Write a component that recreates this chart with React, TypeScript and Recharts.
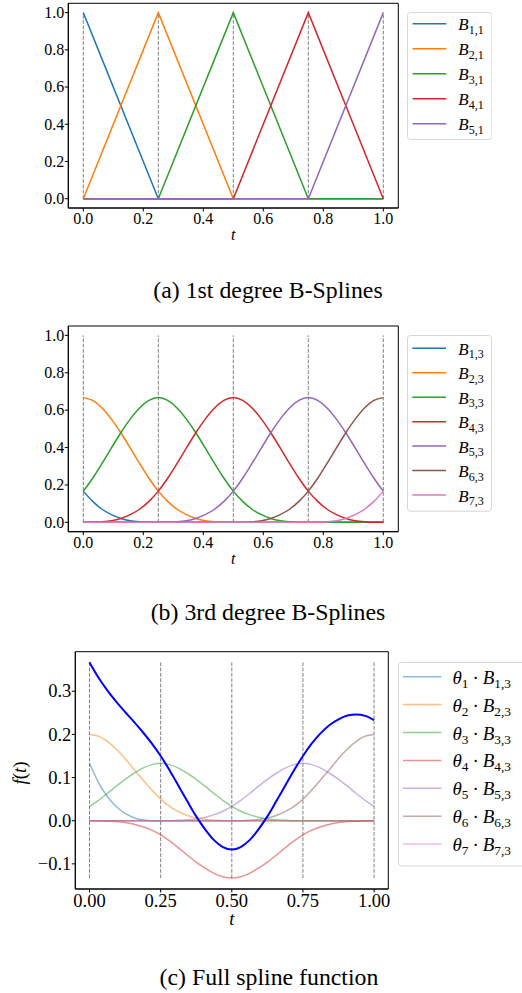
import React from 'react';
import { LineChart, Line, XAxis, YAxis, ReferenceLine, ReferenceArea, Legend } from 'recharts';

// ---------- data ----------
const KNOTS = [0, 0.25, 0.5, 0.75, 1];

// (a) 1st degree B-splines, sampled at the knots
const T1 = [0, 0.25, 0.5, 0.75, 1];
const B11 = [1, 0, 0, 0, 0];
const B21 = [0, 1, 0, 0, 0];
const B31 = [0, 0, 1, 0, 0];
const B41 = [0, 0, 0, 1, 0];
const B51 = [0, 0, 0, 0, 1];

// (b) 3rd degree B-splines
const T3 = [0, 0.03125, 0.0625, 0.09375, 0.125, 0.15625, 0.1875, 0.21875, 0.25, 0.28125, 0.3125, 0.34375, 0.375, 0.40625, 0.4375, 0.46875, 0.5, 0.53125, 0.5625, 0.59375, 0.625, 0.65625, 0.6875, 0.71875, 0.75, 0.78125, 0.8125, 0.84375, 0.875, 0.90625, 0.9375, 0.96875, 1];
const B13 = [0.167, 0.112, 0.070, 0.041, 0.021, 0.009, 0.003, 0, 0, 0, 0, 0, 0, 0, 0, 0, 0, 0, 0, 0, 0, 0, 0, 0, 0, 0, 0, 0, 0, 0, 0, 0, 0];
const B23 = [0.667, 0.652, 0.612, 0.552, 0.479, 0.398, 0.315, 0.236, 0.167, 0.112, 0.070, 0.041, 0.021, 0.009, 0.003, 0, 0, 0, 0, 0, 0, 0, 0, 0, 0, 0, 0, 0, 0, 0, 0, 0, 0];
const B33 = [0.167, 0.236, 0.315, 0.398, 0.479, 0.552, 0.612, 0.652, 0.667, 0.652, 0.612, 0.552, 0.479, 0.398, 0.315, 0.236, 0.167, 0.112, 0.070, 0.041, 0.021, 0.009, 0.003, 0, 0, 0, 0, 0, 0, 0, 0, 0, 0];
const B43 = [0, 0, 0.003, 0.009, 0.021, 0.041, 0.070, 0.112, 0.167, 0.236, 0.315, 0.398, 0.479, 0.552, 0.612, 0.652, 0.667, 0.652, 0.612, 0.552, 0.479, 0.398, 0.315, 0.236, 0.167, 0.112, 0.070, 0.041, 0.021, 0.009, 0.003, 0, 0];
const B53 = [0, 0, 0, 0, 0, 0, 0, 0, 0, 0, 0.003, 0.009, 0.021, 0.041, 0.070, 0.112, 0.167, 0.236, 0.315, 0.398, 0.479, 0.552, 0.612, 0.652, 0.667, 0.652, 0.612, 0.552, 0.479, 0.398, 0.315, 0.236, 0.167];
const B63 = [0, 0, 0, 0, 0, 0, 0, 0, 0, 0, 0, 0, 0, 0, 0, 0, 0, 0, 0.003, 0.009, 0.021, 0.041, 0.070, 0.112, 0.167, 0.236, 0.315, 0.398, 0.479, 0.552, 0.612, 0.652, 0.667];
const B73 = [0, 0, 0, 0, 0, 0, 0, 0, 0, 0, 0, 0, 0, 0, 0, 0, 0, 0, 0, 0, 0, 0, 0, 0, 0, 0, 0.003, 0.009, 0.021, 0.041, 0.070, 0.112, 0.167];

// (c) weighted basis functions and full spline
const TB1 = [0.133, 0.089, 0.056, 0.033, 0.017, 0.007, 0.002, 0, 0, 0, 0, 0, 0, 0, 0, 0, 0, 0, 0, 0, 0, 0, 0, 0, 0, 0, 0, 0, 0, 0, 0, 0, 0];
const TB2 = [0.200, 0.196, 0.184, 0.166, 0.144, 0.119, 0.095, 0.071, 0.050, 0.033, 0.021, 0.012, 0.006, 0.003, 0.001, 0, 0, 0, 0, 0, 0, 0, 0, 0, 0, 0, 0, 0, 0, 0, 0, 0, 0];
const TB3 = [0.033, 0.047, 0.063, 0.080, 0.096, 0.110, 0.122, 0.130, 0.133, 0.130, 0.122, 0.110, 0.096, 0.080, 0.063, 0.047, 0.033, 0.022, 0.014, 0.008, 0.004, 0.002, 0.001, 0, 0, 0, 0, 0, 0, 0, 0, 0, 0];
const TB4 = [0, 0, -0.001, -0.002, -0.004, -0.008, -0.014, -0.022, -0.033, -0.047, -0.063, -0.080, -0.096, -0.110, -0.122, -0.130, -0.133, -0.130, -0.122, -0.110, -0.096, -0.080, -0.063, -0.047, -0.033, -0.022, -0.014, -0.008, -0.004, -0.002, -0.001, 0, 0];
const TB5 = [0, 0, 0, 0, 0, 0, 0, 0, 0, 0, 0.001, 0.002, 0.004, 0.008, 0.014, 0.022, 0.033, 0.047, 0.063, 0.080, 0.096, 0.110, 0.122, 0.130, 0.133, 0.130, 0.122, 0.110, 0.096, 0.080, 0.063, 0.047, 0.033];
const TB6 = [0, 0, 0, 0, 0, 0, 0, 0, 0, 0, 0, 0, 0, 0, 0, 0, 0, 0, 0.001, 0.003, 0.006, 0.012, 0.021, 0.033, 0.050, 0.071, 0.095, 0.119, 0.144, 0.166, 0.184, 0.196, 0.200];
const TB7 = [0, 0, 0, 0, 0, 0, 0, 0, 0, 0, 0, 0, 0, 0, 0, 0, 0, 0, 0, 0, 0, 0, 0, 0, 0, 0, 0, 0, 0, 0, 0, 0, 0];
const FT = [0.367, 0.332, 0.302, 0.276, 0.252, 0.229, 0.205, 0.179, 0.150, 0.117, 0.081, 0.045, 0.010, -0.020, -0.045, -0.061, -0.067, -0.061, -0.045, -0.020, 0.010, 0.045, 0.081, 0.117, 0.150, 0.179, 0.203, 0.222, 0.235, 0.244, 0.246, 0.243, 0.233];

const TICKS_AB = [0, 0.2, 0.4, 0.6, 0.8, 1.0];
const TICKS_CX = [0, 0.25, 0.5, 0.75, 1.0];
const TICKS_CY = [-0.1, 0, 0.1, 0.2, 0.3];
const VLINE_AB = [0, 1];
const VLINE_C = [-0.133, 0.367];

const SUBS_A = ['1,1', '2,1', '3,1', '4,1', '5,1'];
const SUBS_B = ['1,3', '2,3', '3,3', '4,3', '5,3', '6,3', '7,3'];
const SUBS_C = ['1', '2', '3', '4', '5', '6', '7'];

const CAPTIONS = ['(a) 1st degree B-Splines', '(b) 3rd degree B-Splines', '(c) Full spline function'];

const COLORS = ['#1f77b4', '#ff7f0e', '#2ca02c', '#d62728', '#9467bd', '#8c564b', '#e377c2'];

// ---------- tables ----------
const seriesA = [B11, B21, B31, B41, B51];
const seriesB = [B13, B23, B33, B43, B53, B63, B73];
const seriesC = [TB1, TB2, TB3, TB4, TB5, TB6, TB7];

const dataA = T1.map((t, i) => {
  const row: any = { t };
  seriesA.forEach((s, k) => (row['s' + k] = s[i]));
  return row;
});
const dataB = T3.map((t, i) => {
  const row: any = { t };
  seriesB.forEach((s, k) => (row['s' + k] = s[i]));
  return row;
});
const dataC = T3.map((t, i) => {
  const row: any = { t, f: FT[i] };
  seriesC.forEach((s, k) => (row['s' + k] = s[i]));
  return row;
});

const FONT = "'Liberation Serif', 'Times New Roman', serif";

const fmt1 = (v: number) => v.toFixed(1);
const fmt2 = (v: number) => v.toFixed(2);
const fmtC = (v: number) => (v < 0 ? '\u2212' + Math.abs(v).toFixed(1) : v.toFixed(1));

// ---------- ticks ----------
const xTick = (fmt: (v: number) => string, size: number) => (p: any) => (
  <text x={p.x} y={p.y + size * 0.71} textAnchor="middle" fontFamily={FONT} fontSize={size} fill="#000">
    {fmt(p.payload.value)}
  </text>
);
const yTick = (fmt: (v: number) => string, size: number) => (p: any) => (
  <text x={p.x} y={p.y + size * 0.33} textAnchor="end" fontFamily={FONT} fontSize={size} fill="#000">
    {fmt(p.payload.value)}
  </text>
);

// ---------- legend ----------
type LegendCfg = {
  w: number; h: number; boxW: number; row0: number; gap: number;
  lx0: number; lx1: number; tx: number; op: number; kind: 'B' | 'C'; subs: string[];
};

const makeLegend = (cfg: LegendCfg) => () => (
  <svg width={cfg.w} height={cfg.h} style={{ display: 'block' }}>
    <rect x={0.5} y={0.5} width={cfg.boxW - 1} height={cfg.h - 1} rx={3} ry={3}
      fill="#ffffff" fillOpacity={0.8} stroke="#d6d6d6" strokeWidth={1} />
    {cfg.subs.map((sub, i) => {
      const y = cfg.row0 + i * cfg.gap;
      return (
        <g key={i}>
          <line x1={cfg.lx0} x2={cfg.lx1} y1={y} y2={y} stroke={COLORS[i]} strokeWidth={1.5} strokeOpacity={cfg.op} />
          {cfg.kind === 'B' ? (
            <text x={cfg.tx} y={y + 6.5} fontFamily={FONT} fontSize={17} fill="#000">
              <tspan fontStyle="italic">B</tspan>
              <tspan fontSize={12} dy={3.5}>{sub}</tspan>
            </text>
          ) : (
            <text x={cfg.tx} y={y + 7} fontFamily={FONT} fontSize={19} fill="#000">
              <tspan fontStyle="italic">θ</tspan>
              <tspan fontSize={13.3} dy={4}>{sub}</tspan>
              <tspan dy={-4} dx={4}>·</tspan>
              <tspan dx={4} fontStyle="italic">B</tspan>
              <tspan fontSize={13.3} dy={4}>{sub + ',3'}</tspan>
            </text>
          )}
        </g>
      );
    })}
  </svg>
);

const AxisT = (props: { px: number; py: number; size: number }) => (
  <text x={props.px} y={props.py} textAnchor="middle" fontFamily={FONT} fontSize={props.size} fontStyle="italic" fill="#000">t</text>
);

const AxisF = (props: { px: number; py: number }) => (
  <text x={props.px} y={props.py} transform={`rotate(-90 ${props.px} ${props.py})`} textAnchor="middle" fontFamily={FONT} fontSize={19} fill="#000">
    <tspan fontStyle="italic">f</tspan>(<tspan fontStyle="italic">t</tspan>)
  </text>
);

export default function App() {
  return (
    <div style={{ position: 'absolute', left: 0, top: 0, width: 522, height: 993, overflow: 'hidden', background: '#fff' }}>
      {/* (a) */}
      <div style={{ position: 'absolute', left: 0, top: 0 }}>
        <LineChart width={522} height={250} data={dataA} margin={{ left: 8.3, top: 3.3, right: 123.7, bottom: 12 }}>
          <XAxis dataKey="t" type="number" domain={[-0.05, 1.05]} allowDataOverflow ticks={TICKS_AB} interval={0}
            height={30} tickSize={3.5} tickMargin={1} tick={xTick(fmt1, 16)}
            axisLine={{ stroke: '#000' }} tickLine={{ stroke: '#000' }}
            label={<AxisT px={233.3} py={239.5} size={16} />} />
          <YAxis type="number" domain={[-0.05, 1.05]} allowDataOverflow ticks={TICKS_AB} interval={0}
            width={60} tickSize={3.5} tickMargin={0.5} tick={yTick(fmt1, 16)}
            axisLine={{ stroke: '#000' }} tickLine={{ stroke: '#000' }} />
          <ReferenceArea x1={-0.05} x2={1.05} y1={-0.05} y2={1.05} fill="none" stroke="#000" strokeWidth={1} ifOverflow="visible" />
          {KNOTS.map((k) => (
            <ReferenceLine key={k} segment={[{ x: k, y: VLINE_AB[0] }, { x: k, y: VLINE_AB[1] }]}
              stroke="#808080" strokeWidth={1} strokeDasharray="3.7 1.6" ifOverflow="visible" />
          ))}
          {seriesA.map((_, k) => (
            <Line key={k} dataKey={'s' + k} type="linear" stroke={COLORS[k]} strokeWidth={1.5} dot={false} activeDot={false} isAnimationActive={false} />
          ))}
          <Legend layout="horizontal" verticalAlign="middle" align="center"
            wrapperStyle={{ left: 406.7, top: 12, width: 85.3, height: 128 }}
            content={makeLegend({ w: 85.3, h: 128, boxW: 85.3, row0: 11.8, gap: 25, lx0: 5.6, lx1: 39.3, tx: 51.3, op: 1, kind: 'B', subs: SUBS_A })} />
        </LineChart>
      </div>

      {/* (b) */}
      <div style={{ position: 'absolute', left: 0, top: 300 }}>
        <LineChart width={522} height={270} data={dataB} margin={{ left: 8.3, top: 26, right: 123.7, bottom: 8.3 }}>
          <XAxis dataKey="t" type="number" domain={[-0.05, 1.05]} allowDataOverflow ticks={TICKS_AB} interval={0}
            height={30} tickSize={3.5} tickMargin={1} tick={xTick(fmt1, 16)}
            axisLine={{ stroke: '#000' }} tickLine={{ stroke: '#000' }}
            label={<AxisT px={233.3} py={263.5} size={16} />} />
          <YAxis type="number" domain={[-0.05, 1.05]} allowDataOverflow ticks={TICKS_AB} interval={0}
            width={60} tickSize={3.5} tickMargin={0.5} tick={yTick(fmt1, 16)}
            axisLine={{ stroke: '#000' }} tickLine={{ stroke: '#000' }} />
          <ReferenceArea x1={-0.05} x2={1.05} y1={-0.05} y2={1.05} fill="none" stroke="#000" strokeWidth={1} ifOverflow="visible" />
          {KNOTS.map((k) => (
            <ReferenceLine key={k} segment={[{ x: k, y: VLINE_AB[0] }, { x: k, y: VLINE_AB[1] }]}
              stroke="#808080" strokeWidth={1} strokeDasharray="3.7 1.6" ifOverflow="visible" />
          ))}
          {seriesB.map((_, k) => (
            <Line key={k} dataKey={'s' + k} type="monotone" stroke={COLORS[k]} strokeWidth={1.5} dot={false} activeDot={false} isAnimationActive={false} />
          ))}
          <Legend layout="horizontal" verticalAlign="middle" align="center"
            wrapperStyle={{ left: 407, top: 35, width: 85, height: 176.7 }}
            content={makeLegend({ w: 85, h: 176.7, boxW: 85, row0: 13.3, gap: 24.45, lx0: 5.3, lx1: 39, tx: 51.3, op: 1, kind: 'B', subs: SUBS_B })} />
        </LineChart>
      </div>

      {/* (c) */}
      <div style={{ position: 'absolute', left: 0, top: 630 }}>
        <LineChart width={522} height={310} data={dataC} margin={{ left: 5.3, top: 21.7, right: 133.7, bottom: 16 }}>
          <XAxis dataKey="t" type="number" domain={[-0.05, 1.05]} allowDataOverflow ticks={TICKS_CX} interval={0}
            height={35} tickSize={3.5} tickMargin={1} tick={xTick(fmt2, 18.5)}
            axisLine={{ stroke: '#000' }} tickLine={{ stroke: '#000' }}
            label={<AxisT px={231.8} py={295.4} size={18.5} />} />
          <YAxis type="number" domain={[-0.1583, 0.3917]} allowDataOverflow ticks={TICKS_CY} interval={0}
            width={70} tickSize={3.5} tickMargin={0.5} tick={yTick(fmtC, 18.5)}
            axisLine={{ stroke: '#000' }} tickLine={{ stroke: '#000' }}
            label={<AxisF px={26.4} py={143} />} />
          <ReferenceArea x1={-0.05} x2={1.05} y1={-0.1583} y2={0.3917} fill="none" stroke="#000" strokeWidth={1} ifOverflow="visible" />
          {KNOTS.map((k) => (
            <ReferenceLine key={k} segment={[{ x: k, y: VLINE_C[0] }, { x: k, y: VLINE_C[1] }]}
              stroke="#808080" strokeWidth={1} strokeDasharray="3.7 1.6" ifOverflow="visible" />
          ))}
          {seriesC.map((_, k) => (
            <Line key={k} dataKey={'s' + k} type="monotone" stroke={COLORS[k]} strokeOpacity={0.5} strokeWidth={1.5} dot={false} activeDot={false} isAnimationActive={false} />
          ))}
          <Line dataKey="f" type="monotone" stroke="#0000ff" strokeWidth={2} dot={false} activeDot={false} isAnimationActive={false} />
          <Legend layout="horizontal" verticalAlign="middle" align="center"
            wrapperStyle={{ left: 398.3, top: 32.3, width: 123.7, height: 204.4 }}
            content={makeLegend({ w: 123.7, h: 204.4, boxW: 140, row0: 14.7, gap: 27.9, lx0: 5, lx1: 43.4, tx: 54.4, op: 0.5, kind: 'C', subs: SUBS_C })} />
        </LineChart>
      </div>

      {/* captions */}
      <svg width={522} height={993} style={{ position: 'absolute', left: 0, top: 0, pointerEvents: 'none' }}>
        <text x={268} y={298} textAnchor="middle" fontFamily={FONT} fontSize={23.8} fill="#000">{CAPTIONS[0]}</text>
        <text x={268} y={619.7} textAnchor="middle" fontFamily={FONT} fontSize={23.8} fill="#000">{CAPTIONS[1]}</text>
        <text x={269} y={984.7} textAnchor="middle" fontFamily={FONT} fontSize={23.8} fill="#000">{CAPTIONS[2]}</text>
      </svg>
    </div>
  );
}
